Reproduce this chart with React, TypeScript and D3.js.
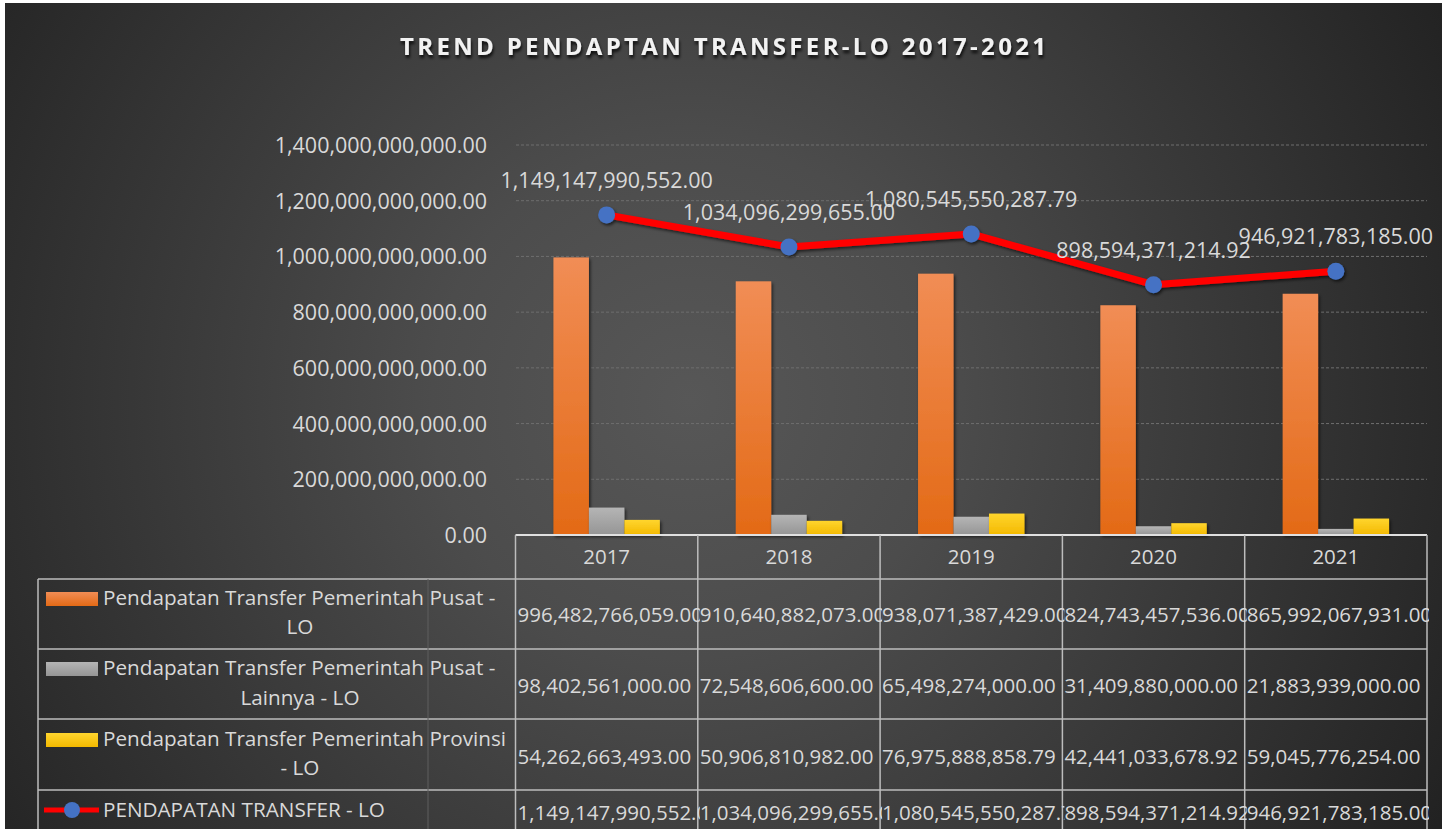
import React from 'react';
import * as d3 from 'd3';

const years = ['2017', '2018', '2019', '2020', '2021'];
const pusat = [996482766059.0, 910640882073.0, 938071387429.0, 824743457536.0, 865992067931.0];
const pusatLainnya = [98402561000.0, 72548606600.0, 65498274000.0, 31409880000.0, 21883939000.0];
const provinsi = [54262663493.0, 50906810982.0, 76975888858.79, 42441033678.92, 59045776254.0];
const total = [1149147990552.0, 1034096299655.0, 1080545550287.79, 898594371214.92, 946921783185.0];
const yTicks = [0, 200e9, 400e9, 600e9, 800e9, 1000e9, 1200e9, 1400e9];
const barSeries = [
  { name: 'Pendapatan Transfer Pemerintah Pusat - LO', lines: ['Pendapatan Transfer Pemerintah Pusat -', 'LO'], values: pusat, grad: 'gOrange' },
  { name: 'Pendapatan Transfer Pemerintah Pusat - Lainnya - LO', lines: ['Pendapatan Transfer Pemerintah Pusat -', 'Lainnya - LO'], values: pusatLainnya, grad: 'gGray' },
  { name: 'Pendapatan Transfer Pemerintah Provinsi - LO', lines: ['Pendapatan Transfer Pemerintah Provinsi', '- LO'], values: provinsi, grad: 'gYellow' },
];
const lineName = 'PENDAPATAN TRANSFER - LO';
const title = 'TREND PENDAPTAN TRANSFER-LO 2017-2021';

const W = 1450;
const H = 829;
const FONT = "'Open Sans', Lato, sans-serif";
const TXT = '#d9d9d9';

export default function App() {
  const fmt = d3.format(',.2f');
  const x = d3.scaleBand<string>().domain(years).range([515.5, 1427]).paddingInner(0).paddingOuter(0);
  const xs = d3.scaleBand<number>().domain([0, 1, 2]).range([0, x.bandwidth()]).paddingInner(0).paddingOuter(1.07);
  const y = d3.scaleLinear().domain([0, 1400e9]).range([535, 145]);
  const line = d3.line<number>().x((_, i) => x(years[i])! + x.bandwidth() / 2).y((d) => y(d));

  const tableLeft = 38;
  const tableRight = 1427;
  const headerTop = 535;
  const rowTops = [579, 649, 719, 790];
  const rowBottom = 860;

  const valueBaselines = [622, 693, 764, 820];
  const legendBaselines = [
    [605, 634],
    [675, 705],
    [746, 775],
  ];

  const rowsValues = [pusat, pusatLainnya, provinsi, total];

  return (
    <svg width={W} height={H} style={{ position: 'absolute', left: 0, top: 0, display: 'block' }} fontFamily={FONT}>
      <defs>
        <radialGradient id="bg" gradientUnits="userSpaceOnUse" cx={690} cy={400} r={860}>
          <stop offset="0" stopColor="#575757" />
          <stop offset="0.3" stopColor="#4c4c4c" />
          <stop offset="1" stopColor="#222222" />
        </radialGradient>
        <linearGradient id="gOrange" x1="0" y1="0" x2="0" y2="1">
          <stop offset="0" stopColor="#f18d55" />
          <stop offset="1" stopColor="#e36a16" />
        </linearGradient>
        <linearGradient id="gGray" x1="0" y1="0" x2="0" y2="1">
          <stop offset="0" stopColor="#b5b5b5" />
          <stop offset="1" stopColor="#959595" />
        </linearGradient>
        <linearGradient id="gYellow" x1="0" y1="0" x2="0" y2="1">
          <stop offset="0" stopColor="#ffd52e" />
          <stop offset="1" stopColor="#f3b900" />
        </linearGradient>
        <filter id="shadow" x="-20%" y="-20%" width="140%" height="160%">
          <feDropShadow dx="1.5" dy="2" stdDeviation="1.5" floodColor="#000" floodOpacity="0.6" />
        </filter>
        <filter id="tshadow" x="-5%" y="-50%" width="110%" height="200%">
          <feDropShadow dx="1" dy="3" stdDeviation="1.5" floodColor="#000" floodOpacity="0.8" />
        </filter>
        {years.map((yr, i) => (
          <clipPath id={`clip${i}`} key={yr}>
            <rect x={x(yr)!} y={headerTop} width={x.bandwidth() + 2} height={rowBottom - headerTop} />
          </clipPath>
        ))}
      </defs>

      <rect x={0} y={0} width={W} height={H} fill="#ffffff" />
      <rect x={5} y={3} width={1437} height={H - 3} fill="url(#bg)" />

      <text
        x={723}
        y={55}
        textAnchor="middle"
        fontSize={24}
        fontWeight={700}
        fill="#f2f2f2"
        textLength={646}
        lengthAdjust="spacing"
        filter="url(#tshadow)"
      >
        {title}
      </text>

      {/* gridlines */}
      {yTicks.filter((t) => t > 0).map((t) => (
        <line key={t} x1={516} x2={1427} y1={y(t)} y2={y(t)} stroke="#6e6e6e" strokeWidth={1} strokeDasharray="3,2" />
      ))}

      {/* y-axis labels */}
      {yTicks.map((t) => (
        <text key={t} x={487} y={y(t) + 8} textAnchor="end" fontSize={21.5} fill={TXT}>
          {fmt(t)}
        </text>
      ))}

      {/* bars */}
      {barSeries.map((s, si) => (
        <g key={s.name} filter="url(#shadow)">
          {s.values.map((v, i) => (
            <rect
              key={years[i]}
              x={x(years[i])! + xs(si)!}
              y={y(v)}
              width={xs.bandwidth()}
              height={y(0) - y(v)}
              fill={`url(#${s.grad})`}
            />
          ))}
        </g>
      ))}

      {/* line */}
      <g filter="url(#shadow)">
        <path d={line(total)!} fill="none" stroke="#ff0000" strokeWidth={7} strokeLinejoin="round" />
        {total.map((v, i) => (
          <circle key={years[i]} cx={x(years[i])! + x.bandwidth() / 2} cy={y(v)} r={8.5} fill="#4472c4" />
        ))}
      </g>
      {total.map((v, i) => (
        <text key={years[i]} x={x(years[i])! + x.bandwidth() / 2} y={y(v) - 27} textAnchor="middle" fontSize={21.5} fill={TXT}>
          {fmt(v)}
        </text>
      ))}

      {/* data table */}
      <g stroke="#bdbdbd" strokeWidth={1.5}>
        <line x1={515.5} x2={tableRight} y1={headerTop} y2={headerTop} stroke="#e0e0e0" strokeWidth={2} />
        {rowTops.map((ry) => (
          <line key={ry} x1={tableLeft} x2={tableRight} y1={ry} y2={ry} />
        ))}
        <line x1={tableLeft} x2={tableLeft} y1={rowTops[0]} y2={rowBottom} />
        {years.map((yr) => (
          <line key={yr} x1={x(yr)!} x2={x(yr)!} y1={headerTop} y2={rowBottom} />
        ))}
        <line x1={tableRight} x2={tableRight} y1={headerTop} y2={rowBottom} />
      </g>
      <line x1={428} x2={428} y1={rowTops[0]} y2={rowBottom} stroke="#5e5e5e" strokeWidth={1} />

      {years.map((yr) => (
        <text key={yr} x={x(yr)! + x.bandwidth() / 2} y={564} textAnchor="middle" fontSize={20.5} fill={TXT}>
          {yr}
        </text>
      ))}

      {/* legend keys */}
      {barSeries.map((s, si) => (
        <g key={s.name}>
          <rect x={46} y={legendBaselines[si][0] - 13} width={52} height={14} fill={`url(#${s.grad})`} />
          {s.lines.map((ln, li) => (
            <text key={li} x={li === 0 ? 103 : 300} y={legendBaselines[si][li]} textAnchor={li === 0 ? 'start' : 'middle'} fontSize={20.7} fill={TXT}>
              {ln}
            </text>
          ))}
        </g>
      ))}
      <line x1={44} x2={99} y1={810} y2={810} stroke="#ff0000" strokeWidth={5} />
      <circle cx={72} cy={810} r={8} fill="#4472c4" />
      <text x={103} y={817} fontSize={20.7} fill={TXT}>
        {lineName}
      </text>

      {/* table values */}
      {rowsValues.map((vals, ri) => (
        <g key={ri}>
          {vals.map((v, i) => (
            <text key={i} x={x(years[i])! + 2} y={valueBaselines[ri]} fontSize={20.5} fill={TXT} clipPath={`url(#clip${i})`}>
              {fmt(v)}
            </text>
          ))}
        </g>
      ))}
    </svg>
  );
}
